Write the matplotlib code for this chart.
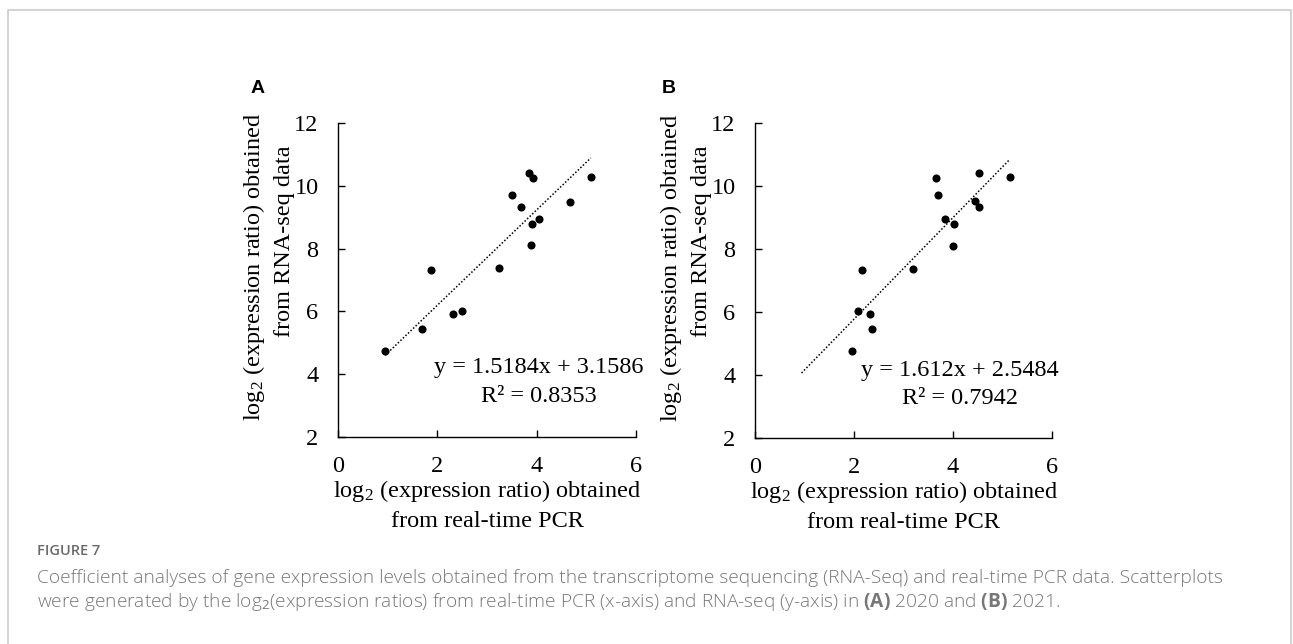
import numpy as np
import matplotlib
matplotlib.use("Agg")
import matplotlib.pyplot as plt
from matplotlib.lines import Line2D

# panel A (2020): real-time PCR vs RNA-seq log2 ratios
pcr_a = [0.95, 1.69, 1.87, 2.31, 2.49, 3.25, 3.51, 3.68, 3.84, 3.92, 3.91, 3.88, 4.05, 4.67, 5.09]
seq_a = [4.73, 5.44, 7.33, 5.93, 6.02, 7.37, 9.70, 9.34, 10.41, 10.24, 8.78, 8.12, 8.94, 9.50, 10.28]
fit_a = (1.5184, 3.1586)
fit_range_a = [0.95, 5.09]
eq_a = ["y = 1.5184x + 3.1586", "R² = 0.8353"]

# panel B (2021)
pcr_b = [1.96, 2.08, 2.16, 2.33, 2.37, 3.19, 3.65, 3.69, 3.84, 4.02, 4.00, 4.44, 4.52, 4.53, 5.16]
seq_b = [4.75, 6.02, 7.34, 5.94, 5.45, 7.37, 10.24, 9.70, 8.95, 8.78, 8.11, 9.51, 9.33, 10.41, 10.28]
fit_b = (1.612, 2.5484)
fit_range_b = [0.94, 5.13]
eq_b = ["y = 1.612x + 2.5484", "R² = 0.7942"]

xticks = [0, 2, 4, 6]
yticks = [2, 4, 6, 8, 10, 12]

plt.rcParams['mathtext.fontset'] = 'custom'
plt.rcParams['mathtext.rm'] = 'Liberation Serif'
plt.rcParams['mathtext.it'] = 'Liberation Serif:italic'
plt.rcParams['mathtext.sf'] = 'Open Sans'
plt.rcParams['mathtext.bf'] = 'Open Sans:bold'

SERIF = 'Liberation Serif'
FS = 17.5
W, H = 1293, 644

fig = plt.figure(figsize=(W / 100, H / 100), dpi=100)

# light grey frame (open at the bottom)
fig.add_artist(Line2D([8 / W, 8 / W, 1291 / W, 1291 / W], [0, 1 - 10 / H, 1 - 10 / H, 0],
                      transform=fig.transFigure, color='#cccccc', lw=1.2))


def panel(box, x, y, fit, fit_range, eq, eq_pos, letter, letter_x):
    left, top, right, bottom = box
    ax = fig.add_axes([left / W, 1 - bottom / H, (right - left) / W, (bottom - top) / H])
    ax.scatter(x, y, s=34, color='black', zorder=3, linewidths=0)
    fx = np.array(fit_range)
    ax.plot(fx, fit[0] * fx + fit[1], color='black', ls=(0, (1, 1.3)), lw=1.1)
    ax.set_xlim(0, 6)
    ax.set_ylim(2, 12)
    ax.set_xticks(xticks)
    ax.set_yticks(yticks)
    for s in ['top', 'right']:
        ax.spines[s].set_visible(False)
    for s in ['left', 'bottom']:
        ax.spines[s].set_linewidth(1.0)
    ax.tick_params(direction='in', length=5, width=1.0, labelsize=FS)
    ax.tick_params(axis='x', pad=14)
    ax.tick_params(axis='y', pad=14)
    for lab in ax.get_xticklabels() + ax.get_yticklabels():
        lab.set_fontfamily(SERIF)
    ax.set_xlabel("log$_2$ (expression ratio) obtained\nfrom real-time PCR",
                  fontsize=FS, family=SERIF, linespacing=1.45)
    ax.xaxis.set_label_coords(0.5, -0.13)
    ax.text(-0.262, 0.541, "log$_2$ (expression ratio) obtained", transform=ax.transAxes,
            rotation=90, rotation_mode='anchor', ha='center', va='baseline',
            fontsize=FS, family=SERIF)
    ax.text(-0.162, 0.624, "from RNA-seq data", transform=ax.transAxes,
            rotation=90, rotation_mode='anchor', ha='center', va='baseline',
            fontsize=FS, family=SERIF)
    ax.text(eq_pos[0], eq_pos[1], eq[0], ha='center', va='baseline',
            fontsize=FS, family=SERIF, clip_on=False)
    ax.text(eq_pos[0], eq_pos[2], eq[1], ha='center', va='baseline',
            fontsize=FS, family=SERIF, clip_on=False)
    fig.text(letter_x / W, 1 - 93 / H, letter, fontsize=14, fontweight='bold',
             family='Liberation Sans', ha='left', va='baseline')
    return ax


panel((338, 123, 636, 437), pcr_a, seq_a, fit_a, fit_range_a, eq_a, (4.05, 4.04, 3.11), "A", 251)
panel((755, 123, 1052, 438), pcr_b, seq_b, fit_b, fit_range_b, eq_b, (4.14, 3.96, 3.08), "B", 662)

cap_color = '#777777'
fig.text(37 / W, 1 - 555 / H, "FIGURE 7", fontsize=10.5, fontweight='semibold',
         family='Open Sans', color='#6a6a6a', va='baseline')
fig.text(37 / W, 1 - 583 / H,
         "Coefficient analyses of gene expression levels obtained from the transcriptome "
         "sequencing (RNA-Seq) and real-time PCR data. Scatterplots",
         fontsize=13.8, fontweight='light', family='Open Sans', color=cap_color, va='baseline')
fig.text(37 / W, 1 - 607 / H,
         "were generated by the log$_{\\mathsf{2}}$(expression ratios) from real-time PCR (x-axis) "
         "and RNA-seq (y-axis) in $\\mathbf{(A)}$ 2020 and $\\mathbf{(B)}$ 2021.",
         fontsize=13.8, fontweight='light', family='Open Sans', color=cap_color, va='baseline')

fig.savefig("out.png", dpi=100)
